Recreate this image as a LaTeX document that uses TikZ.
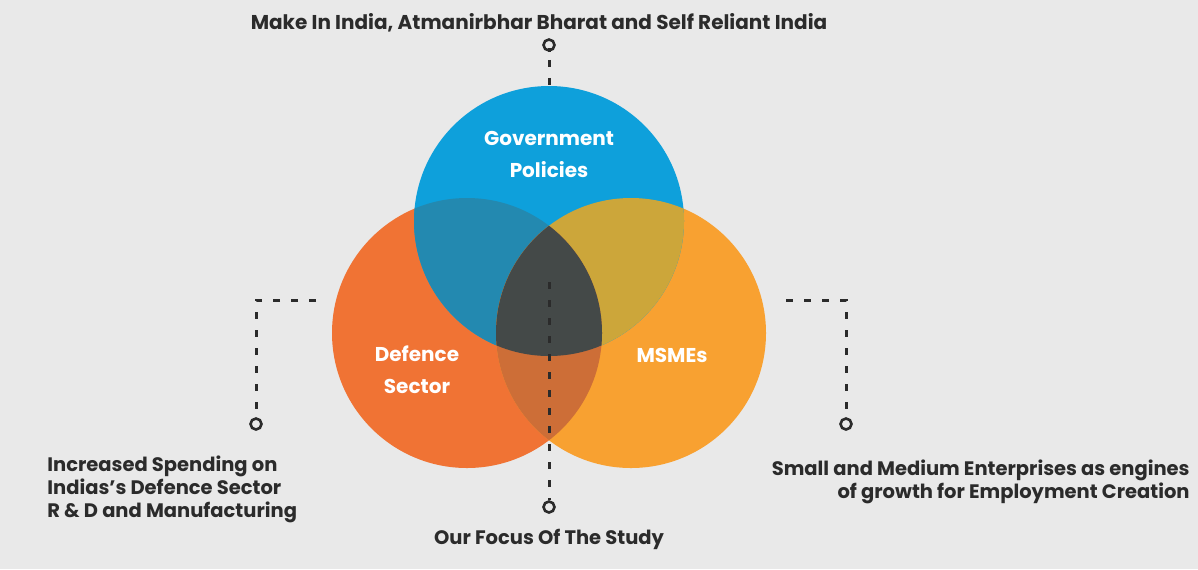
\documentclass[tikz,border=0pt]{standalone}
\usepackage{fontspec}
\setmainfont{Poppins}
\definecolor{bg}{RGB}{233,233,233}
\definecolor{cB}{RGB}{14,160,219}
\definecolor{cL}{RGB}{240,115,52}
\definecolor{cR}{RGB}{248,161,49}
\definecolor{cBL}{RGB}{35,137,176}
\definecolor{cBR}{RGB}{204,166,58}
\definecolor{cLR}{RGB}{205,110,55}
\definecolor{cBLR}{RGB}{68,73,72}
\definecolor{ink}{RGB}{43,43,43}
\begin{document}
\begin{tikzpicture}[x=0.5pt,y=-0.5pt,
  lbl/.style={font=\bfseries\fontsize{9.75}{11.5}\selectfont, text=ink, inner sep=0pt},
  inlbl/.style={font=\bfseries\fontsize{10}{16}\selectfont, text=white, align=center, inner sep=0pt},
  dashline/.style={draw=ink, line width=1.5pt, dash pattern=on 3.5pt off 5.5pt},
  pin/.style={circle, draw=ink, line width=1.3pt, minimum size=5.5pt, inner sep=0pt, fill=bg}]
\fill[bg] (0,0) rectangle (1198,569);
\useasboundingbox (0,0) rectangle (1198,569);
\def\R{67.5pt}
\coordinate (cb) at (549,221);
\coordinate (cl) at (467,333);
\coordinate (cr) at (631,333);
% connectors behind circles
\node[pin] (ptop) at (549,45) {};
\coordinate (ttop) at (549,92);
\draw[dashline] ([yshift=-4pt]ptop.south) -- (ttop);
\draw[ink, line width=1.5pt] (ptop.south) -- ++(0,-4);
% circles
\fill[cL] (cl) circle[radius=\R];
\fill[cR] (cr) circle[radius=\R];
\fill[cB] (cb) circle[radius=\R];
\begin{scope}
  \clip (cb) circle[radius=\R];
  \fill[cBL] (cl) circle[radius=\R];
  \fill[cBR] (cr) circle[radius=\R];
\end{scope}
\begin{scope}
  \clip (cl) circle[radius=\R];
  \fill[cLR] (cr) circle[radius=\R];
  \clip (cr) circle[radius=\R];
  \fill[cBLR] (cb) circle[radius=\R];
\end{scope}
% labels in circles
\node[inlbl] (gov) at (549,154) {Government\\Policies};
\node[inlbl] (def) at (417,370) {Defence\\Sector};
\node[inlbl] (msm) at (672,355) {MSMEs};
% centre connector
\coordinate (tc) at (549,282);
\node[pin] (pc) at (549,507) {};
\draw[dashline] (tc) -- (pc.north);
% left connector
\coordinate (tl) at (316,300);
\coordinate (kl) at (256,300);
\node[pin] (pl) at (256,424) {};
\draw[dashline] (tl) -- (kl) -- (pl.north);
% right connector
\coordinate (tr) at (786,300);
\coordinate (kr) at (846,300);
\node[pin] (pr) at (846,424) {};
\draw[dashline] (tr) -- (kr) -- (pr.north);
% texts
\node[lbl, font=\bfseries\fontsize{10}{11.5}\selectfont] (ttxt) at (539,23) {Make In India, Atmanirbhar Bharat and Self Reliant India};
\node[lbl] (ctxt) at (549,539) {Our Focus Of The Study};
\node[lbl, align=left, anchor=north west] (ltxt) at (47,455) {Increased Spending on\\Indias’s Defence Sector\\R \& D and Manufacturing};
\node[lbl, align=right, anchor=north east] (rtxt) at (1190,459) {Small and Medium Enterprises as engines\\of growth for Employment Creation};
\end{tikzpicture}
\end{document}
